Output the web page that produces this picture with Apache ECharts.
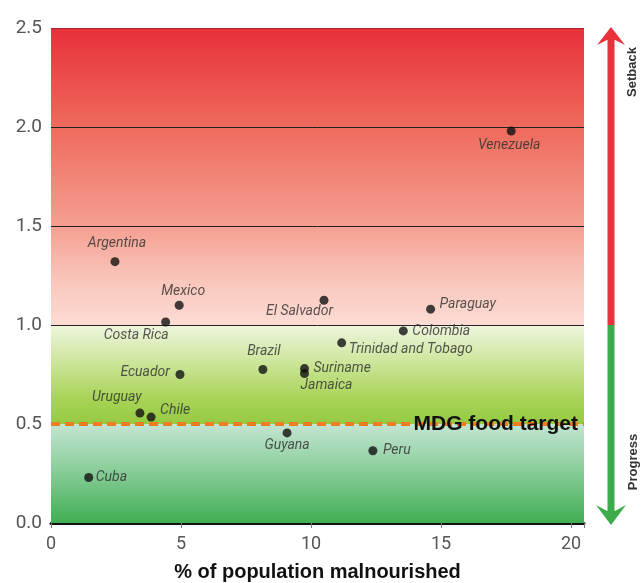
<!DOCTYPE html>
<html>
<head>
<meta charset="utf-8">
<script src="https://cdn.jsdelivr.net/npm/echarts@6/dist/echarts.min.js"></script>
<style>
  html, body { margin: 0; padding: 0; background: #ffffff; }
  #chart { width: 641px; height: 583px; }
</style>
</head>
<body>
<div id="chart"></div>
<script>
// Latin American countries: undernourishment vs. progress ratio toward the MDG hunger target
const countries = ['Venezuela', 'Argentina', 'Mexico', 'Costa Rica', 'El Salvador', 'Paraguay',
  'Colombia', 'Trinidad and Tobago', 'Suriname', 'Jamaica', 'Brazil', 'Ecuador',
  'Uruguay', 'Chile', 'Cuba', 'Guyana', 'Peru'];
const malnourished = [17.7, 2.46, 4.93, 4.41, 10.5, 14.6, 13.55, 11.18, 9.75, 9.75, 8.15, 4.96,
  3.42, 3.85, 1.45, 9.08, 12.38];
const progressRatio = [1.98, 1.32, 1.10, 1.015, 1.125, 1.08, 0.97, 0.91, 0.78, 0.755, 0.775, 0.75,
  0.555, 0.535, 0.23, 0.455, 0.365];
const xTicks = [0, 5, 10, 15, 20];
const yTicks = [0, 0.5, 1.0, 1.5, 2.0, 2.5];
const gridLevels = [1.0, 1.5, 2.0];
const targetLevel = 0.5;
const targetLabel = 'MDG food target';
const xTitle = '% of population malnourished';
const upText = 'Setback';
const downText = 'Progress';

// where each country name sits relative to its dot
const labelPlacement = {
  'Venezuela': { offset: [-2, 15], align: 'center' },
  'Argentina': { offset: [2, -18], align: 'center' },
  'Mexico': { offset: [4, -14], align: 'center' },
  'Costa Rica': { offset: [3, 13], align: 'right' },
  'El Salvador': { offset: [9, 11], align: 'right' },
  'Paraguay': { offset: [9, -5], align: 'left' },
  'Colombia': { offset: [9, 1], align: 'left' },
  'Trinidad and Tobago': { offset: [7, 7], align: 'left' },
  'Suriname': { offset: [9, 0], align: 'left' },
  'Jamaica': { offset: [-4, 12], align: 'left' },
  'Brazil': { offset: [1, -18], align: 'center' },
  'Ecuador': { offset: [-10, -2], align: 'right' },
  'Uruguay': { offset: [-23, -16], align: 'center' },
  'Chile': { offset: [9, -7], align: 'left' },
  'Cuba': { offset: [7, 0], align: 'left' },
  'Guyana': { offset: [0, 13], align: 'center' },
  'Peru': { offset: [10, 0], align: 'left' }
};

const xMax = 20.5;
const yMax = yTicks[yTicks.length - 1];

const vGrad = (stops) => ({
  type: 'linear', x: 0, y: 0, x2: 0, y2: 1,
  colorStops: stops.map(([offset, color]) => ({ offset, color }))
});

const points = countries.map((name, i) => {
  const p = labelPlacement[name];
  return {
    name,
    value: [malnourished[i], progressRatio[i]],
    label: { offset: p.offset, align: p.align }
  };
});

const chart = echarts.init(document.getElementById('chart'), null, { renderer: 'canvas' });

const option = {
  animation: false,
  grid: { left: 51, right: 57, top: 28, bottom: 60, containLabel: false, outerBoundsMode: 'none' },
  xAxis: {
    type: 'value', min: xTicks[0], max: xMax, interval: 5,
    axisLine: { show: true, onZero: false, lineStyle: { color: '#111', width: 3 } },
    axisTick: { show: true, length: 5, lineStyle: { color: '#777', width: 1 } },
    axisLabel: {
      color: '#555', fontSize: 18, fontFamily: 'Roboto', margin: 12,
      formatter: (v) => (xTicks.includes(v) ? String(v) : '')
    },
    splitLine: { show: false },
    name: xTitle, nameLocation: 'middle', nameGap: 39,
    nameTextStyle: { color: '#111', fontSize: 20, fontWeight: 'bold', fontFamily: 'Liberation Sans' }
  },
  yAxis: {
    type: 'value', min: yTicks[0], max: yMax, interval: 0.5,
    axisLine: { show: false },
    axisTick: { show: false },
    axisLabel: {
      color: '#555', fontSize: 19, fontFamily: 'Roboto', margin: 9,
      formatter: (v) => v.toFixed(1)
    },
    splitLine: { show: false }
  },
  series: [
    {
      // coloured bands and reference lines behind the dots
      type: 'scatter', z: 1, data: [], silent: true,
      markArea: {
        silent: true,
        data: [
          [{ yAxis: 1.0, itemStyle: { color: vGrad([[0, '#e8303a'], [0.33, '#ee6a5c'], [0.66, '#f59e90'], [0.85, '#f9c6bb'], [1, '#fcdcd4']]) } }, { yAxis: yMax }],
          [{ yAxis: targetLevel, itemStyle: { color: vGrad([[0, '#eef5de'], [0.35, '#cfe7a0'], [0.75, '#a8d356'], [1, '#95ca42']]) } }, { yAxis: 1.0 }],
          [{ yAxis: 0, itemStyle: { color: vGrad([[0, '#c3e5d2'], [0.4, '#92d1a2'], [1, '#3faf52']]) } }, { yAxis: targetLevel }]
        ].map(([a, b]) => [Object.assign({ xAxis: 0 }, a), Object.assign({ xAxis: xMax }, b)])
      },
      markLine: {
        silent: true, symbol: 'none', label: { show: false },
        data: gridLevels.map((v) => ({ yAxis: v, lineStyle: { color: '#222', width: 1, type: 'solid' } }))
          .concat([{ yAxis: yMax, lineStyle: { color: '#a3272c', width: 1, type: 'solid' } }])
      }
    },
    {
      // MDG target line
      type: 'scatter', z: 3, data: [], silent: true,
      markLine: {
        silent: true, symbol: 'none', label: { show: false },
        data: [{ yAxis: targetLevel, lineStyle: { color: '#f07d22', width: 4, type: [9, 5] } }]
      }
    },
    {
      name: 'countries', type: 'scatter', z: 5,
      symbol: 'circle', symbolSize: 9,
      itemStyle: { color: '#111' },
      label: {
        show: true, position: 'inside', verticalAlign: 'middle',
        formatter: (p) => p.name,
        color: '#2e2e2e', fontSize: 14, fontStyle: 'italic', fontFamily: 'Roboto'
      },
      data: points
    }
  ]
};
chart.setOption(option);

// side arrow (setback up in red, progress down in green) and the target caption
const splitY = chart.convertToPixel({ gridIndex: 0 }, [0, 1.0])[1];
const topY = chart.convertToPixel({ gridIndex: 0 }, [0, yMax])[1];
const bottomY = chart.convertToPixel({ gridIndex: 0 }, [0, 0])[1];
const targetPt = chart.convertToPixel({ gridIndex: 0 }, [xMax, targetLevel]);
const ax = 611;
const red = '#e8323c', green = '#3bab4b';

chart.setOption({
  graphic: [
    { type: 'rect', shape: { x: ax - 3.5, y: topY + 10, width: 7, height: splitY - topY - 10 }, style: { fill: red } },
    { type: 'polygon', shape: { points: [[ax, topY - 1], [ax + 14, topY + 17], [ax + 4, topY + 12], [ax - 4, topY + 12], [ax - 14, topY + 17]] }, style: { fill: red } },
    { type: 'rect', shape: { x: ax - 3.5, y: splitY, width: 7, height: bottomY - splitY - 12 }, style: { fill: green } },
    { type: 'polygon', shape: { points: [[ax, bottomY + 2], [ax + 15, bottomY - 18], [ax + 4, bottomY - 12], [ax - 4, bottomY - 12], [ax - 15, bottomY - 18]] }, style: { fill: green } },
    { type: 'text', x: 632, y: 72, rotation: Math.PI / 2,
      style: { text: upText, fill: '#333', font: 'bold 13px "Liberation Sans"', align: 'center', verticalAlign: 'middle' } },
    { type: 'text', x: 633, y: 462, rotation: Math.PI / 2,
      style: { text: downText, fill: '#333', font: 'bold 13px "Liberation Sans"', align: 'center', verticalAlign: 'middle' } },
    { type: 'text', x: targetPt[0] - 6, y: targetPt[1], z: 10,
      style: { text: targetLabel, fill: '#111', font: 'bold 21px "Liberation Sans"', align: 'right', verticalAlign: 'middle' } }
  ]
});
</script>
</body>
</html>
